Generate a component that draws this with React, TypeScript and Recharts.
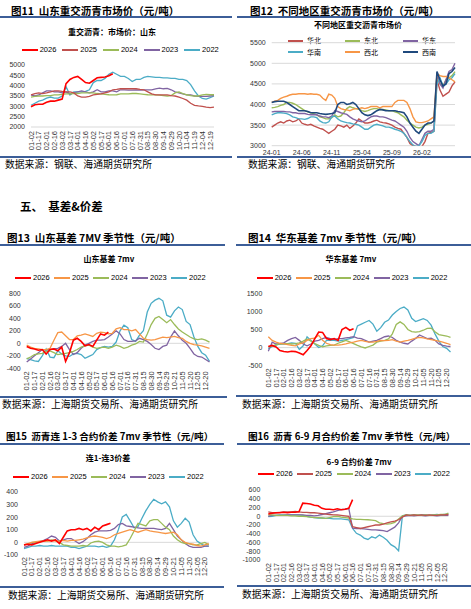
import React from 'react';
import { LineChart, Line, XAxis, YAxis, CartesianGrid, ReferenceLine } from 'recharts';

const FONT_CN = '"Noto Sans CJK SC", "Noto Sans", sans-serif';
const FONT_NUM = '"Liberation Sans", Arial, sans-serif';
const RULE = '#3c5e98';

const RED = '#ff0000';
const DARKRED = '#c0504d';
const ORANGE = '#f79646';
const GREEN = '#9bbb59';
const PURPLE = '#8064a2';
const CYAN = '#4bacc6';
const NAVY = '#1f497d';

// x tick labels
const labels11 = ['01-02', '01-17', '02-01', '02-16', '03-02', '03-17', '04-01', '04-16', '05-02', '05-17', '06-01', '06-16',
  '07-01', '07-16', '07-31', '08-15', '08-30', '09-14', '09-29', '10-20', '11-04', '11-19', '12-04', '12-19'];
const labelsSeason = ['01-02', '01-17', '02-01', '02-16', '03-02', '03-17', '04-01', '04-16', '05-02', '05-17', '06-01', '06-16',
  '07-01', '07-16', '07-31', '08-15', '08-30', '09-14', '09-29', '10-21', '11-05', '11-20', '12-05', '12-20'];
const ticks12 = ['24-01', '24-06', '24-11', '25-04', '25-09', '26-02'];
const years = ['2026', '2025', '2024', '2023', '2022'];
const regions = ['华北', '东北', '华东', '华南', '西北', '西南'];

// 图11 山东重交沥青市场价 (two points per tick interval)
const sd2026 = [2980, 3080, 3100, 3100, 3200, 3250, 3250, 3300, 3350, 4100, 4300, 4400, 4450, 4300, 4150, 4120, 4250, 4380, 4400, 4420, 4480, 4580];
const sd2025 = [3550, 3620, 3650, 3620, 3650, 3700, 3750, 3750, 3720, 3700, 3700, 3650,
  3500, 3450, 3450, 3480, 3550, 3580, 3600, 3650, 3700, 3800, 3820, 3850,
  3850, 3850, 3850, 3850, 3820, 3800, 3700, 3600, 3550, 3550, 3550, 3550,
  3520, 3500, 3450, 3380, 3300, 3150, 3050, 3020, 3000, 2960, 2940, 2960];
const sd2024 = [3450, 3480, 3500, 3500, 3520, 3520, 3550, 3550, 3580, 3600, 3600, 3620,
  3620, 3650, 3650, 3650, 3650, 3620, 3600, 3580, 3560, 3550, 3560, 3600,
  3600, 3600, 3620, 3620, 3600, 3580, 3560, 3550, 3550, 3540, 3520, 3500,
  3520, 3650, 3700, 3620, 3560, 3520, 3500, 3500, 3550, 3580, 3560, 3560];
const sd2023 = [3550, 3500, 3550, 3650, 3750, 3750, 3700, 3700, 3650, 3700, 3600, 3650,
  3700, 3750, 3700, 3650, 3700, 3800, 3700, 3700, 3750, 3750, 3700, 3800,
  3800, 3780, 3780, 3800, 3780, 3800, 3800, 3800, 3850, 3880, 3850, 3870,
  3800, 3700, 3650, 3600, 3550, 3550, 3500, 3480, 3480, 3480, 3500, 3520];
const sd2022 = [3050, 3150, 3250, 3300, 3400, 3450, 3400, 3400, 3500, 3950, 3550, 3700,
  3700, 3700, 3720, 3800, 4150, 4250, 4250, 4350, 4550, 4650, 4550, 4450,
  4450, 4350, 4200, 4300, 4300, 4400, 4450, 4430, 4400, 4400, 4380, 4380,
  4350, 4350, 4300, 4300, 4250, 4050, 3750, 3500, 3380, 3350, 3420, 3500];

// 图12 不同地区重交沥青市场价 (half-month points from 24-01)
const huabei = [3450, 3500, 3550, 3580, 3550, 3600, 3620, 3580, 3600, 3650,
  3550, 3520, 3500, 3520, 3480, 3450, 3420, 3400, 3350, 3300,
  3350, 3400, 3500, 3480, 3450, 3500, 3420, 3480, 3550, 3650,
  3600, 3550, 3550, 3570, 3600, 3620, 3580, 3560, 3550, 3530,
  3500, 3450, 3420, 3400, 3300, 3200, 3050, 3000, 2980, 2960,
  2980, 3100, 3300, 3320, 3350, 4600, 4350, 4200, 4250, 4300, 4450, 4550];
const dongbei = [3920, 3930, 3950, 3980, 4000, 4050, 4050, 4030, 4000, 3950,
  3900, 3850, 3820, 3800, 3780, 3750, 3700, 3680, 3650, 3650,
  3680, 3750, 3700, 3720, 3800, 3900, 3950, 3920, 3900, 3880,
  3850, 3830, 3850, 3880, 3900, 3900, 3880, 3880, 3870, 3850,
  3850, 3820, 3800, 3750, 3700, 3620, 3550, 3500, 3450, 3430,
  3450, 3500, 3520, 3550, 3600, 4700, 4500, 4450, 4600, 4650, 4700, 4800];
const huadong = [3820, 3830, 3830, 3830, 3830, 3820, 3820, 3800, 3800, 3780,
  3780, 3780, 3760, 3750, 3750, 3750, 3720, 3700, 3700, 3680,
  3720, 3850, 3830, 3800, 3780, 3760, 3700, 3650, 3620, 3600,
  3580, 3600, 3650, 3700, 3720, 3720, 3700, 3700, 3680, 3650,
  3620, 3600, 3550, 3500, 3450, 3350, 3200, 3100, 3050, 3000,
  3150, 3300, 3350, 3350, 3400, 4750, 4500, 4400, 4600, 4800, 4850, 5000];
const huanan = [3750, 3780, 3800, 3800, 3790, 3780, 3750, 3700, 3680, 3650,
  3650, 3640, 3660, 3700, 3700, 3680, 3600, 3560, 3550, 3580,
  3700, 3720, 3650, 3600, 3580, 3560, 3550, 3530, 3520, 3500,
  3450, 3400, 3400, 3450, 3500, 3520, 3500, 3480, 3450, 3450,
  3430, 3400, 3380, 3350, 3300, 3200, 3100, 3020, 2980, 3000,
  3100, 3250, 3300, 3300, 3350, 4500, 4650, 4450, 4500, 4600, 4650, 4750];
const xibei = [4050, 4080, 4100, 4150, 4180, 4200, 4230, 4250, 4250, 4260,
  4260, 4260, 4250, 4260, 4250, 4250, 4230, 4150, 4100, 4250,
  4230, 4150, 3950, 3900, 3880, 3870, 3850, 3880, 3900, 3900,
  3920, 3900, 3920, 3950, 3950, 3950, 3920, 3950, 3950, 3950,
  3950, 4050, 4100, 4100, 4100, 4050, 3900, 3700, 3580, 3560,
  3560, 3580, 3600, 3650, 3700, 4750, 4700, 4680, 4680, 4650, 4600, 4550];
const xinan = [4050, 4070, 4080, 4080, 4080, 4050, 4000, 3950, 3900, 3850,
  3850, 3850, 3830, 3800, 3800, 3800, 3780, 3770, 3760, 3770,
  3780, 3800, 4000, 4050, 4050, 4000, 4020, 4050, 4000, 3900,
  3800, 3750, 3730, 3750, 3800, 3850, 3880, 3870, 3850, 3850,
  3850, 3850, 3830, 3820, 3800, 3700, 3550, 3450, 3350, 3300,
  3400, 3500, 3550, 3550, 3600, 4800, 4600, 4450, 4500, 4750, 4800, 4900];

// 图13 山东基差 7mv
const b13_2026 = [-50, -80, -90, -110, -100, -170, -100, -90, -120, -60, -290, -150, 50, 80, 30, -40, -20, -50, 50, 150, 130, 180];
const b13_2025 = [-30, -60, -80, -90, -100, -100, -80, 50, 170, 180, 120, 60,
  60, 120, 130, 150, 130, 110, 160, 180, 170, 150, 160, 230,
  250, 220, 220, 200, 220, 150, 80, 60, 50, 60, 80, 100,
  90, 100, 110, 90, 80, 30, 0, -20, -30, -40, -60, -80];
const b13_2024 = [-250, -220, -180, -170, -160, -130, -120, -150, -180, -170, -160, -150,
  -130, -100, -60, -40, -30, -60, -80, -70, -60, -80, -60, -30,
  -50, -80, -60, -30, -10, 30, 20, 150, 300, 400, 430, 380,
  330, 380, 300, 230, 180, 140, 100, 70, 60, 70, 50, 20];
const b13_2023 = [-300, -250, -200, -150, -100, -100, -100, -90, -80, -50, 0, -100,
  -180, -150, -80, -30, 0, 30, 50, 50, 60, 100, 150, 200,
  150, 60, 30, 30, 40, 80, 60, 30, -20, -80, -100, -50,
  -30, 100, 200, 120, 50, 0, -80, -170, -210, -220, -260, -300];
const b13_2022 = [-240, -260, -280, -290, -200, -90, -220, -230, -120, -170, -200, -210,
  -170, -160, -180, -240, -210, -180, -100, -70, -50, -60, -50, 20,
  200, 290, 250, 60, 30, 130, 200, 500, 640, 690, 720, 680,
  450, 420, 520, 580, 540, 350, 300, 100, -50, -150, -190, -290];

// 图14 华东基差 7mv
const b14_2026 = [30, 60, 20, -80, -110, -120, -100, -110, -150, -200, -80, 50, 250, 430, 420, 250, 220, 250, 200, 500, 560, 480, 520];
const b14_2025 = [300, 200, 150, 120, 100, 80, 60, 50, 100, 130, 200, 250,
  260, 340, 200, 120, 80, 70, 70, 80, 100, 130, 150, 180,
  200, 170, 150, 150, 170, 200, 190, 200, 220, 180, 150, 180,
  200, 230, 260, 280, 270, 240, 220, 200, 180, 150, 120, 80];
const b14_2024 = [20, 40, 80, 100, 110, 110, 100, 110, 130, 180, 240, 180,
  110, 60, 20, 50, 60, 70, 120, 160, 200, 160, 110, 60,
  20, -10, 30, 70, 150, 180, 200, 240, 380, 640, 710, 640,
  500, 440, 430, 440, 480, 530, 540, 440, 360, 340, 320, 280];
const b14_2023 = [-100, 150, 100, 110, 130, 200, 250, 280, 200, 100, 50, 100,
  180, 200, 250, 280, 250, 220, 250, 250, 270, 280, 300, 260,
  250, 200, 150, 180, 200, 250, 300, 320, 280, 200, 150, 120,
  100, 180, 250, 350, 300, 250, 260, 200, 100, 60, 40, 30];
const b14_2022 = [-30, 30, 70, 100, 100, 110, 130, 120, -50, 50, 300, 200,
  100, 0, 50, 200, 200, 200, 180, 200, 220, 250, 280, 600,
  650, 700, 750, 650, 450, 550, 700, 760, 900, 1000, 1080, 1120,
  1040, 810, 720, 760, 800, 750, 620, 380, 180, 30, -20, -120];

// 图15 连1-连3价差
const s15_2026 = [-20, -15, -20, -10, 0, 10, 20, 10, 20, -10, 40, 90, 100, 100, 110, 100, 110, 90, 120, 100, 130, 140, 150];
const s15_2025 = [-20, -10, 0, 5, 10, 10, 10, 15, 10, 10, 15, 10,
  15, 15, 20, 25, 35, 45, 50, 45, 40, 30, 40, 60,
  70, 80, 90, 100, 90, 80, 90, 100, 90, 85, 80, 75,
  70, 75, 80, 60, 20, 0, -10, -15, -25, -30, -20, -10];
const s15_2024 = [-20, -15, 0, 0, 5, 10, 10, 20, 15, 0, -20, -25,
  -30, -30, -30, -25, -30, -5, 5, 10, 0, -20, -30, -30,
  -35, -30, -20, 30, 90, 150, 140, 130, 170, 180, 180, 150,
  120, 100, 50, 20, 0, -10, -10, -20, -20, -10, 0, -20];
const s15_2023 = [-40, -30, -10, 0, 5, 15, 30, 50, 40, 10, 20, 30,
  30, 10, -10, 5, 30, 60, 80, 90, 90, 90, 95, 110,
  140, 150, 130, 125, 120, 115, 110, 110, 110, 110, 105, 100,
  110, 150, 100, 50, 20, -10, -30, -40, -40, -40, -30, -30];
const s15_2022 = [-50, -40, -30, -30, -25, -30, -30, -25, -30, -30, -30, -30,
  -40, -40, -50, -40, -30, -30, -30, -35, -30, -40, -30, 20,
  100, 200, 220, 170, 115, 125, 190, 250, 300, 340, 320, 305,
  320, 280, 170, 120, 150, 190, 160, 60, 10, -10, -30, -30];

// 图16 6-9 合约价差 7mv
const s16_2026 = [50, 70, 80, 80, 90, 80, 90, 90, 100, 300, 290, 280, 250, 240, 180, 160, 160, 150, 170, 150, 160, 180, 380];
const s16_2025 = [100, 80, 80, 90, 100, 100, 100, 110, 100, 90, 90, 80,
  80, 70, 60, 50, 40, 30, 30, 20, 10, 0, -240, -260,
  -280, -260, -240, -220, -200, -200, -180, -150, -130, -110, -80, -20,
  30, 20, 30, 20, 30, 20, 30, 20, 20, 30, 30, 40];
const s16_2024 = [30, 30, 20, 20, 20, 20, 10, 10, 0, 0, -10, -20,
  -30, -30, -40, -50, -30, -10, 0, -20, -30, -40, -60, -70,
  -70, -75, -80, -90, -100, -150, -170, -180, -170, -140, -60, 10,
  30, 20, 30, 30, 20, 30, 20, 30, 30, 40, 40, 70];
const s16_2023 = [0, 20, 20, 20, 20, 30, 30, 30, 30, 30, 20, 20,
  10, 20, 40, 60, 80, 100, 130, 150, 160, 180, -270, -280,
  -280, -290, -300, -310, -310, -320, -330, -350, -300, -250, -150, 0,
  10, 20, 10, 20, 20, 10, 20, 20, 10, 20, 20, 20];
const s16_2022 = [-10, 0, 20, 30, 30, 30, 30, 30, 30, 20, 0, -20,
  -30, -40, -40, -50, -50, -60, -60, -60, -70, -80, -280, -390,
  -430, -500, -530, -470, -500, -430, -480, -550, -650, -700, -790, 10,
  30, 20, 30, 20, 30, 30, 20, 30, 40, 30, 40, 50];

type Series = { key: string; color: string; values: number[]; width?: number };

function seasonRows(labels: string[], series: Series[]) {
  const rows: any[] = [];
  for (let i = 0; i < labels.length * 2; i++) {
    const row: any = { k: i % 2 === 0 ? labels[i / 2] : labels[(i - 1) / 2] + '+' };
    series.forEach((s) => {
      if (i < s.values.length) row[s.key] = s.values[i];
    });
    rows.push(row);
  }
  return rows;
}

function monthRows(series: Series[], n: number) {
  const rows: any[] = [];
  for (let i = 0; i < n; i++) {
    const m = Math.floor(i / 2);
    const key = `${24 + Math.floor(m / 12)}-${String((m % 12) + 1).padStart(2, '0')}` + (i % 2 ? '+' : '');
    const row: any = { k: key };
    series.forEach((s) => {
      row[s.key] = s.values[i];
    });
    rows.push(row);
  }
  return rows;
}

const yearSeries = (vals: number[][], c2025: string): Series[] => {
  const colors = [RED, c2025, GREEN, PURPLE, CYAN];
  return years
    .map((y, i) => ({ key: 'y' + y, color: colors[i], values: vals[i], width: i === 0 ? 1.6 : 1.3 }))
    .reverse();
};

const series11 = yearSeries([sd2026, sd2025, sd2024, sd2023, sd2022], DARKRED);
const series12: Series[] = [huabei, dongbei, huadong, huanan, xibei, xinan].map((v, i) => ({
  key: 'r' + i,
  color: [DARKRED, GREEN, PURPLE, CYAN, ORANGE, NAVY][i],
  values: v,
  width: i === 5 ? 1.6 : 1.4,
}));
const series13 = yearSeries([b13_2026, b13_2025, b13_2024, b13_2023, b13_2022], ORANGE);
const series14 = yearSeries([b14_2026, b14_2025, b14_2024, b14_2023, b14_2022], ORANGE);
const series15 = yearSeries([s15_2026, s15_2025, s15_2024, s15_2023, s15_2022], ORANGE);
const series16 = yearSeries([s16_2026, s16_2025, s16_2024, s16_2023, s16_2022], DARKRED);

const range = (a: number, b: number, s: number) => {
  const out: number[] = [];
  for (let v = a; v <= b; v += s) out.push(v);
  return out;
};

const RotTick = (props: any) => {
  const { x, y, payload } = props;
  return (
    <text x={x} y={y} transform={`rotate(-90 ${x} ${y})`} textAnchor="end" dy="0.35em" fontSize={7.5} fill="#333" fontFamily={FONT_NUM}>
      {payload.value}
    </text>
  );
};

type PanelProps = {
  box: number[];
  plot: number[];
  rows: any[];
  series: Series[];
  domain: number[];
  yTicks: number[];
  xTicks?: string[];
  xGap: number;
  yGap?: number;
  rotate?: boolean;
  grid?: boolean;
  zero?: boolean;
  baseLine?: boolean;
};

function Panel({ box, plot, rows, series, domain, yTicks, xTicks, xGap, yGap = 6, rotate = true, grid, zero, baseLine }: PanelProps) {
  const [x0, y0, w, h] = box;
  const [pl, pt, pr, pb] = plot;
  return (
    <div style={{ position: 'absolute', left: x0, top: y0 }}>
      <LineChart width={w} height={h} data={rows} margin={{ top: pt - y0, right: x0 + w - pr, left: 0, bottom: 0 }}>
        {grid && <CartesianGrid vertical={false} stroke="#d9d9d9" />}
        <XAxis
          dataKey="k"
          height={y0 + h - pb}
          interval={xTicks ? 0 : 1}
          ticks={xTicks}
          tickLine={false}
          axisLine={baseLine ? { stroke: '#d9d9d9' } : false}
          tickSize={xGap}
          tickMargin={0}
          tick={rotate ? RotTick : { fontSize: 7, fill: '#333', fontFamily: FONT_NUM }}
        />
        <YAxis
          type="number"
          width={pl - x0}
          domain={domain}
          ticks={yTicks}
          interval={0}
          allowDataOverflow
          axisLine={false}
          tickLine={false}
          tickSize={yGap}
          tickMargin={0}
          tick={{ fontSize: 7, fill: '#333', fontFamily: FONT_NUM }}
        />
        {zero && <ReferenceLine y={0} stroke="#d9d9d9" strokeWidth={1} />}
        {series.map((s) => (
          <Line key={s.key} dataKey={s.key} stroke={s.color} strokeWidth={s.width ?? 1.3} dot={false} isAnimationActive={false} />
        ))}
      </LineChart>
    </div>
  );
}

function T({ x, y, size, bold, center, font = FONT_CN, children }: any) {
  return (
    <div
      style={{
        position: 'absolute',
        left: x,
        top: y - size / 2,
        fontSize: size,
        lineHeight: 1,
        fontWeight: bold ? 700 : 400,
        fontFamily: font,
        whiteSpace: 'nowrap',
        color: '#000',
        transform: center ? 'translateX(-50%)' : undefined,
      }}
    >
      {children}
    </div>
  );
}

function Rule({ x, y, w }: { x: number; y: number; w: number }) {
  return <div style={{ position: 'absolute', left: x, top: y, width: w, height: 2, background: RULE }} />;
}

function YearLegend({ x, y, pitch, colors }: { x: number; y: number; pitch: number; colors: string[] }) {
  return (
    <>
      {years.map((yr, i) => (
        <React.Fragment key={yr}>
          <div style={{ position: 'absolute', left: x + i * pitch, top: y - 1, width: 16, height: 2, background: colors[i] }} />
          <T x={x + i * pitch + 18} y={y} size={7.5} font={FONT_NUM}>
            {yr}
          </T>
        </React.Fragment>
      ))}
    </>
  );
}

const colsA = [RED, DARKRED, GREEN, PURPLE, CYAN];
const colsB = [RED, ORANGE, GREEN, PURPLE, CYAN];
const regionColors = [DARKRED, GREEN, PURPLE, CYAN, ORANGE, NAVY];
const legendCols = [288, 345, 403];
const legendRows = [40.7, 52.3];

export default function App() {
  return (
    <div style={{ position: 'absolute', left: 0, top: 0, width: 471, height: 609, background: '#fff', overflow: 'hidden', fontFamily: FONT_CN }}>
      {/* 图11 */}
      <T x={11} y={11} size={10.5} bold>图11&nbsp;&nbsp;山东重交沥青市场价（元/吨）</T>
      <Rule x={0} y={16} w={232} />
      <T x={112} y={32} size={8} bold center>重交沥青：市场价：山东</T>
      <YearLegend x={21.7} y={50} pitch={40.6} colors={colsA} />
      <Panel
        box={[0, 60, 225, 100]}
        plot={[31, 65, 214, 127]}
        rows={seasonRows(labels11, series11)}
        series={series11}
        domain={[2000, 5000]}
        yTicks={range(2000, 5000, 500)}
        xGap={4}
        baseLine
      />
      <Rule x={0} y={156} w={232} />
      <T x={5} y={165} size={9.8}>数据来源：钢联、海通期货研究所</T>

      {/* 图12 */}
      <T x={250} y={11} size={10.5} bold>图12&nbsp;&nbsp;不同地区重交沥青市场价（元/吨）</T>
      <Rule x={237} y={16} w={234} />
      <T x={358} y={25} size={8} bold center>不同地区重交沥青市场价</T>
      {regions.map((r, i) => {
        const cx = legendCols[i % 3];
        const cy = legendRows[Math.floor(i / 3)];
        return (
          <React.Fragment key={r}>
            <div style={{ position: 'absolute', left: cx, top: cy - 1, width: 15, height: 2, background: regionColors[i] }} />
            <T x={cx + 19} y={cy} size={7}>{r}</T>
          </React.Fragment>
        );
      })}
      <Panel
        box={[237, 38, 234, 118]}
        plot={[271.7, 42.7, 455, 145.7]}
        rows={monthRows(series12, 62)}
        series={series12}
        domain={[3000, 5500]}
        yTicks={range(3000, 5500, 500)}
        xTicks={ticks12}
        xGap={4}
        rotate={false}
        grid
      />
      <Rule x={237} y={156} w={234} />
      <T x={248} y={165} size={9.8}>数据来源：钢联、海通期货研究所</T>

      {/* section */}
      <T x={20} y={207} size={11.5} bold>五、&nbsp;&nbsp;基差&amp;价差</T>

      {/* 图13 */}
      <T x={7} y={238} size={10.5} bold>图13&nbsp;&nbsp;山东基差 7MV 季节性（元/吨）</T>
      <Rule x={0} y={244} w={225} />
      <T x={109} y={259} size={8} bold center>山东基差 7mv</T>
      <YearLegend x={15} y={278} pitch={39} colors={colsB} />
      <Panel
        box={[0, 288, 225, 108]}
        plot={[26.7, 293.3, 209.5, 368.3]}
        rows={seasonRows(labelsSeason, series13)}
        series={series13}
        domain={[-400, 800]}
        yTicks={range(-400, 800, 200)}
        xGap={3}
        zero
      />
      <Rule x={0} y={396} w={227} />
      <T x={2} y={405} size={9.8}>数据来源：上海期货交易所、海通期货研究所</T>

      {/* 图14 */}
      <T x={248} y={238} size={10.5} bold>图14&nbsp;&nbsp;华东基差 7mv 季节性（元/吨）</T>
      <Rule x={236} y={244} w={235} />
      <T x={351} y={259} size={8} bold center>华东基差 7mv</T>
      <YearLegend x={256.7} y={278} pitch={39} colors={colsB} />
      <Panel
        box={[237, 288, 234, 108]}
        plot={[268.3, 293.3, 450.5, 365.7]}
        rows={seasonRows(labelsSeason, series14)}
        series={series14}
        domain={[-500, 1500]}
        yTicks={range(-500, 1500, 500)}
        xGap={2.5}
        zero
      />
      <Rule x={236} y={395} w={235} />
      <T x={242} y={405} size={9.8}>数据来源：上海期货交易所、海通期货研究所</T>

      {/* 图15 */}
      <T x={6} y={437} size={9.6} bold>图15&nbsp;&nbsp;沥青连 1-3 合约价差 7mv 季节性（元/吨）</T>
      <Rule x={0} y={443} w={224} />
      <T x={108} y={458} size={8} bold center>连1-连3价差</T>
      <YearLegend x={13} y={477} pitch={39} colors={colsB} />
      <Panel
        box={[0, 486, 225, 100]}
        plot={[24, 491.7, 208.8, 555]}
        rows={seasonRows(labelsSeason, series15)}
        series={series15}
        domain={[-100, 400]}
        yTicks={range(-100, 400, 100)}
        xGap={2}
        zero
      />
      <Rule x={0} y={586} w={224} />
      <T x={8} y={596} size={9.8}>数据来源：上海期货交易所、海通期货研究所</T>

      {/* 图16 */}
      <T x={248} y={437} size={9.6} bold>图16&nbsp;&nbsp;沥青 6-9 月合约价差 7mv 季节性（元/吨）</T>
      <Rule x={237} y={443} w={233} />
      <T x={359} y={462} size={8} bold center>6-9 合约价差 7mv</T>
      <YearLegend x={258} y={474} pitch={39.3} colors={colsA} />
      <Panel
        box={[237, 485, 234, 100]}
        plot={[268.3, 490, 448.4, 560]}
        rows={seasonRows(labelsSeason, series16)}
        series={series16}
        domain={[-1000, 600]}
        yTicks={range(-1000, 600, 200)}
        xGap={3}
        yGap={8}
        zero
      />
      <Rule x={237} y={585} w={234} />
      <T x={242} y={595} size={9.8}>数据来源：上海期货交易所、海通期货研究所</T>
    </div>
  );
}
